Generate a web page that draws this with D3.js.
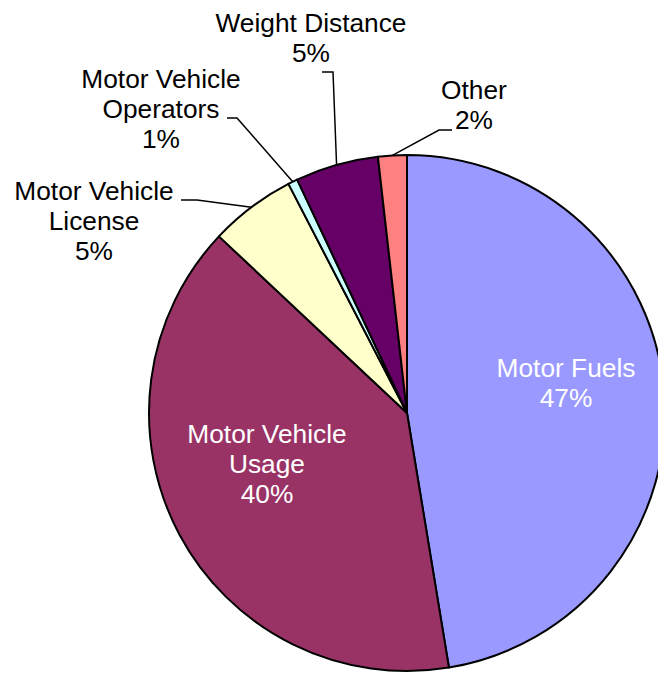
<!DOCTYPE html>
<html>
<head>
    <title>pie</title>
    <script src="https://d3js.org/d3.v7.min.js"></script>
    <style>
        body { margin: 0; background: #fff; }
        text { font-family: "Liberation Sans", Arial, sans-serif; }
    </style>
</head>
<body>
    <svg width="658" height="673" id="mainsvg"></svg>
    <script>
        // data (share of revenue, %)
        const categories = ['Motor Fuels', 'Motor Vehicle Usage', 'Motor Vehicle License',
            'Motor Vehicle Operators', 'Weight Distance', 'Other'];
        const shares = [47.4, 39.6, 5.4, 0.6, 5.2, 1.8];
        const labelLines = [['Motor Fuels'], ['Motor Vehicle', 'Usage'], ['Motor Vehicle', 'License'],
            ['Motor Vehicle', 'Operators'], ['Weight Distance'], ['Other']];
        const colors = ['#9999FF', '#993366', '#FFFFCC', '#CCFFFF', '#660066', '#FF8080'];

        // layout of the labels (x centre, first baseline) and leader elbows
        const labelPos = [[566, 377], [267, 443], [94, 200], [161, 88], [311, 32], [474, 99]];
        const labelFill = ['#fff', '#fff', '#000', '#000', '#000', '#000'];
        const leaders = [null, null, [[181, 200], [197, 200]], [[227, 118], [237, 118]],
            [[322, 72], [333, 72]], [[452, 130], [439, 130]]];

        const svg = d3.select('#mainsvg');
        const cx = 407, cy = 413, r = 258;
        const g = svg.append('g').attr('transform', `translate(${cx},${cy})`);

        const pie = d3.pie().sort(null).value(d => d);
        const arcs = pie(shares);
        const arc = d3.arc().innerRadius(0).outerRadius(r);

        g.selectAll('path.slice').data(arcs)
            .enter().append('path')
            .attr('class', 'slice')
            .attr('d', arc)
            .attr('fill', (d, i) => colors[i])
            .attr('stroke', '#000')
            .attr('stroke-width', 2)
            .attr('stroke-linejoin', 'round');

        // leader lines end on the rim at the slice mid angle
        const line = d3.line();
        arcs.forEach((d, i) => {
            if (!leaders[i]) return;
            const a = (d.startAngle + d.endAngle) / 2;
            const edge = [cx + r * Math.sin(a), cy - r * Math.cos(a)];
            svg.append('path')
                .attr('d', line(leaders[i].concat([edge])))
                .attr('fill', 'none')
                .attr('stroke', '#000')
                .attr('stroke-width', 1.5);
        });

        const fmt = v => Math.round(v) + '%';
        categories.forEach((c, i) => {
            const lines = labelLines[i].concat([fmt(shares[i])]);
            const t = svg.append('text')
                .attr('x', labelPos[i][0])
                .attr('y', labelPos[i][1])
                .attr('text-anchor', 'middle')
                .attr('font-size', '26.3px')
                .attr('fill', labelFill[i]);
            lines.forEach((s, j) => {
                t.append('tspan')
                    .attr('x', labelPos[i][0])
                    .attr('dy', j === 0 ? 0 : 30)
                    .text(s);
            });
        });
    </script>
</body>
</html>
